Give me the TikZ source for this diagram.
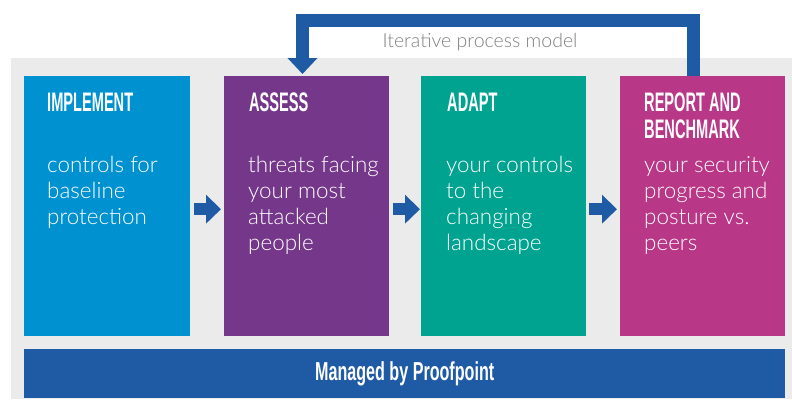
\documentclass[tikz,border=0pt]{standalone}
\usepackage{fontspec}
\setmainfont{Liberation Sans}
\newfontfamily\headfont[FakeStretch=0.545]{Liberation Sans}
\newfontfamily\barfont[FakeStretch=0.62]{Liberation Sans}
\newfontfamily\bodyfont{Lato Light}
\usetikzlibrary{arrows.meta}
\definecolor{bggrey}{RGB}{235,235,235}
\definecolor{cimpl}{RGB}{0,146,208}
\definecolor{cassess}{RGB}{117,55,138}
\definecolor{cadapt}{RGB}{0,163,143}
\definecolor{creport}{RGB}{185,55,135}
\definecolor{cdark}{RGB}{31,91,164}
\definecolor{clabel}{RGB}{128,128,128}
\begin{document}
\begin{tikzpicture}[x=1pt,y=-1pt,
  stagebox/.style={anchor=north west, inner sep=0pt, minimum height=260pt, draw=none},
  head/.style={anchor=base west, inner sep=0pt, text=white, align=left,
    font=\headfont\bfseries\fontsize{26.8}{27}\selectfont},
  body/.style={anchor=base west, inner sep=0pt, text=white, align=left,
    font=\bodyfont\fontsize{22.4}{26}\selectfont},
  harrow/.style={draw=cdark, line width=12pt, -{Triangle[width=28pt,length=15pt]}},
  fbarrow/.style={draw=cdark, line width=12.5pt, line join=miter, -{Triangle[width=29pt,length=16pt]}},
]
\useasboundingbox (0,0) rectangle (792,399);
\fill[bggrey] (11,58) rectangle (792,399);

\node[stagebox, fill=cimpl, minimum width=166pt] (b1) at (24,76) {};
\node[stagebox, fill=cassess, minimum width=165pt] (b2) at (224,76) {};
\node[stagebox, fill=cadapt, minimum width=165pt] (b3) at (421,76) {};
\node[stagebox, fill=creport, minimum width=165pt] (b4) at (620,76) {};

\node[anchor=north west, inner sep=0pt, fill=cdark, minimum width=761pt, minimum height=49pt,
  text=white, font=\barfont\bfseries\fontsize{26}{26}\selectfont] (bar) at (24,349) {Managed by Proofpoint};

% base anchor = baseline of the last line
\node[head] (h1) at ([xshift=23pt,yshift=-35pt]b1.north west) {IMPLEMENT};
\node[head] (h2) at ([xshift=25pt,yshift=-35pt]b2.north west) {ASSESS};
\node[head] (h3) at ([xshift=26pt,yshift=-35pt]b3.north west) {ADAPT};
\node[head] (h4) at ([xshift=24pt,yshift=-62pt]b4.north west) {REPORT AND\\BENCHMARK};

\node[body] (t1) at ([xshift=23pt,yshift=-148pt]b1.north west) {controls for\\baseline\\protection};
\node[body] (t2) at ([xshift=24pt,yshift=-174pt]b2.north west) {threats facing\\your most\\attacked\\people};
\node[body] (t3) at ([xshift=25pt,yshift=-174pt]b3.north west) {your controls\\to the\\changing\\landscape};
\node[body] (t4) at ([xshift=24pt,yshift=-174pt]b4.north west) {your security\\progress and\\posture vs.\\peers};

\draw[harrow] ([xshift=4pt,yshift=-3pt]b1.east) -- ([xshift=-3pt,yshift=-3pt]b2.west);
\draw[harrow] ([xshift=4pt,yshift=-3pt]b2.east) -- ([xshift=-1pt,yshift=-3pt]b3.west);
\draw[harrow] ([xshift=3pt,yshift=-3pt]b3.east) -- ([xshift=-3pt,yshift=-3pt]b4.west);

\coordinate (fbs) at (693.5,76);
\coordinate (fbe) at (302.5,74);
\draw[fbarrow] (fbs) -- ++(0,-55.5) -| (fbe);

\node[inner sep=0pt, text=clabel, font=\bodyfont\fontsize{19.5}{21}\selectfont] (itl) at (480,42) {Iterative process model};
\end{tikzpicture}
\end{document}
